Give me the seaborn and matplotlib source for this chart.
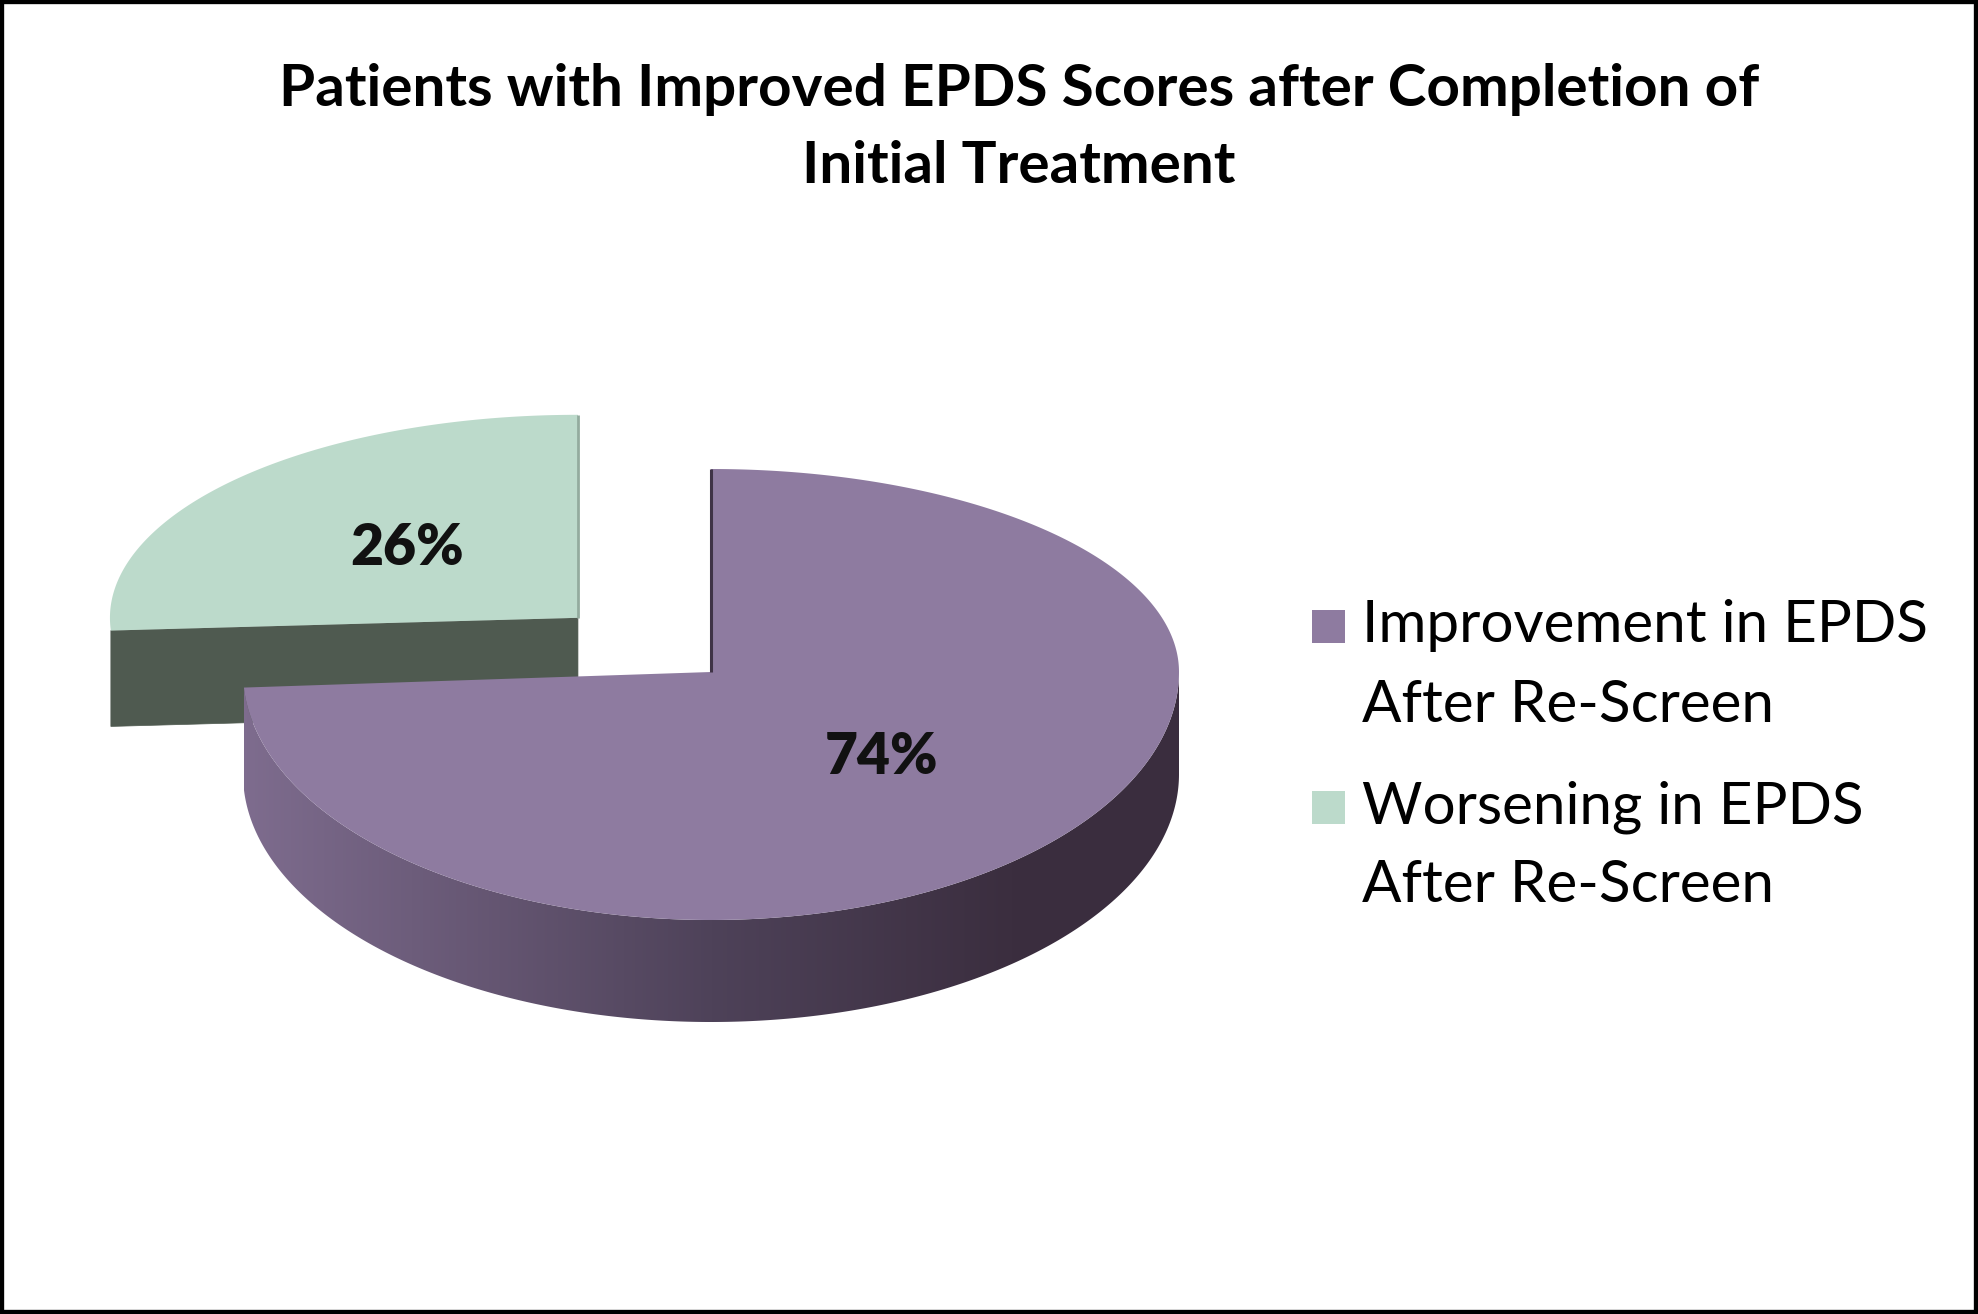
import numpy as np
import matplotlib
matplotlib.use("Agg")
import matplotlib.pyplot as plt
from matplotlib.patches import Polygon, Rectangle
from matplotlib.colors import LinearSegmentedColormap
import seaborn as sns

# data
categories = ["Improvement in EPDS\nAfter Re-Screen", "Worsening in EPDS\nAfter Re-Screen"]
shares = [74, 26]
explode = [0.0, 0.39]
top_colors = ["#8E7BA0", "#BCDACB"]
face_colors = ["#3F3346", "#4F5A50"]
title = "Patients with Improved EPDS Scores after Completion of\nInitial Treatment"

sns.set_theme(style="white")
plt.rcParams["font.family"] = ["Lato", "DejaVu Sans"]

W, H = 1978, 1314
fig = plt.figure(figsize=(W / 100, H / 100), dpi=100)
ax = fig.add_axes([0, 0, 1, 1])

# pie geometry (pixel layout); back half is foreshortened a little more than
# the front half to mimic the perspective of the original 3-D chart
cx, cy = 711, 672
rx = 468
ry_back, ry_front = 203, 248
depth = 102


def to_px(X, Y, z=0.0, off=(0.0, 0.0)):
    X = np.asarray(X, dtype=float) + off[0]
    Y = np.asarray(Y, dtype=float) + off[1]
    ry = np.where(Y > 0, ry_back, ry_front)
    return cx + rx * X, cy - ry * Y + z * depth


def arc(a0, a1, n=400):
    t = np.radians(np.linspace(a0, a1, n))
    return np.cos(t), np.sin(t)


# angles from data: start at 12 o'clock, clockwise
fracs = np.array(shares) / sum(shares)
bounds = 90 - 360 * np.concatenate([[0], np.cumsum(fracs)])
slices = []
for i in range(len(shares)):
    a0, a1 = bounds[i + 1], bounds[i]  # a0 < a1 (degrees)
    mid = np.radians((a0 + a1) / 2)
    off = (explode[i] * np.cos(mid), explode[i] * np.sin(mid))
    slices.append((a0, a1, mid, off))

side_cmap = LinearSegmentedColormap.from_list(
    "side", [(0.0, "#7E6C8E"), (0.5, "#4E4259"), (0.82, "#3B2E3F"), (1.0, "#3A2D3E")])

# --- green slice (behind) ---
a0, a1, mid, off = slices[1]   # a0 = -270 (12 o'clock), a1 = -176.4
elo = np.radians(a1)
vx, vy = to_px(0, 0, 0, off)
lx, ly = to_px(np.cos(elo), np.sin(elo), 0, off)
vxb, vyb = to_px(0, 0, 0.94, off)
lxb, lyb = to_px(np.cos(elo), np.sin(elo), 0.94, off)
ax.add_patch(Polygon([[vx, vy], [lx, ly], [lxb, lyb], [vxb, vyb]],
                     closed=True, facecolor=face_colors[1], edgecolor=face_colors[1],
                     lw=0.5, zorder=2))
X, Y = arc(a0, a1)
px, py = to_px(X, Y, 0, off)
ax.add_patch(Polygon(np.column_stack([np.r_[vx, px], np.r_[vy, py]]), closed=True,
                     facecolor=top_colors[1], edgecolor="none", zorder=3, label=categories[1]))
tx, ty = to_px([0, 0], [0, 1], 0, off)
ax.plot(tx, ty, color="#93AB9E", lw=2, zorder=3.5, solid_capstyle="butt")

# --- purple slice (front) ---
a0, a1, mid, off = slices[0]   # a0 = -176.4, a1 = 90
th = np.linspace(a0, 0, 400)
Xs, Ys = np.cos(np.radians(th)), np.sin(np.radians(th))
sx_t, sy_t = to_px(Xs, Ys, 0, off)
sx_b, sy_b = to_px(Xs, Ys, 1, off)
side_pts = np.column_stack([np.r_[sx_t, sx_b[::-1]], np.r_[sy_t, sy_b[::-1]]])
side = Polygon(side_pts, closed=True, facecolor="none", edgecolor="none", zorder=4)
ax.add_patch(side)
grad = np.linspace(0, 1, 512).reshape(1, -1)
im = ax.imshow(grad, cmap=side_cmap, aspect="auto", zorder=4,
               extent=[side_pts[:, 0].min(), side_pts[:, 0].max(),
                       side_pts[:, 1].max(), side_pts[:, 1].min()])
im.set_clip_path(side)

X, Y = arc(a0, a1, 600)
px, py = to_px(X, Y, 0, off)
vx, vy = to_px(0, 0, 0, off)
ax.add_patch(Polygon(np.column_stack([np.r_[vx, px], np.r_[vy, py]]), closed=True,
                     facecolor=top_colors[0], edgecolor="none", zorder=5, label=categories[0]))
tx, ty = to_px([0, 0], [0, 1], 0, off)
ax.plot(tx, ty, color=face_colors[0], lw=2.2, zorder=5.5, solid_capstyle="butt")

# percentage labels
for i, s in enumerate(shares):
    a0, a1, mid, off = slices[i]
    lx, ly = to_px(0.5 * np.cos(mid), 0.5 * np.sin(mid), 0, off)
    ax.text(lx, ly, f"{s}%", ha="center", va="center", fontsize=41,
            fontweight="heavy", color="#111111", zorder=6)

ax.set_xlim(0, W)
ax.set_ylim(H, 0)
ax.axis("off")

# title
fig.text(0.515, 1 - 128 / H, title, ha="center", va="center", fontsize=42,
         fontweight="bold", color="black", linespacing=1.55)

# legend
leg_y = [626, 807]
for i, lab in enumerate(categories):
    ax.add_patch(Rectangle((1312, leg_y[i] - 16), 33, 33, facecolor=top_colors[i],
                           edgecolor="none", zorder=6))
    first, second = lab.split("\n")
    ax.text(1362, leg_y[i], first, ha="left", va="center", fontsize=42, color="black")
    ax.text(1362, leg_y[i] + 79, second, ha="left", va="center", fontsize=42, color="black")

# outer frame
fig.add_artist(Rectangle((0, 0), 1, 1, transform=fig.transFigure, fill=False,
                         edgecolor="black", lw=6))

fig.savefig("out.png", dpi=100)
